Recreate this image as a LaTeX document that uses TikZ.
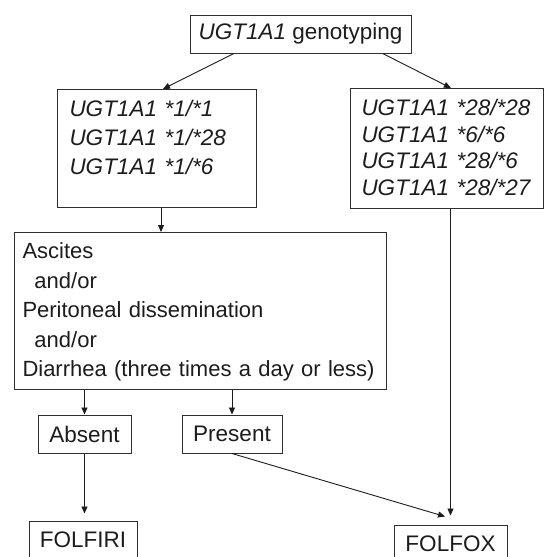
\documentclass[tikz,border=0pt]{standalone}
\usepackage{fontspec}
\setmainfont{Liberation Sans}
\usepackage{tikz}
\usetikzlibrary{positioning,arrows.meta,calc}
\definecolor{ink}{HTML}{1C1C1C}
\definecolor{frame}{HTML}{2E2E2E}
\tikzset{
  box/.style={rectangle, draw=frame, line width=1pt, inner sep=0pt, text=ink,
              font=\fontsize{22.5}{29}\selectfont},
  listbox/.style={box, anchor=north west, align=left},
  flow/.style={-{Triangle[length=7pt,width=6pt]}, line width=0.9pt, draw=ink},
  endflow/.style={flow, shorten >=7pt}
}

\begin{document}
\begin{tikzpicture}[x=1pt,y=-1pt]
  \useasboundingbox (0,0) rectangle (544,557);

  % genotype split
  \node[box, minimum width=221pt, minimum height=38pt] (geno) at (300.5,34)
    {\textit{UGT1A1} genotyping};
  \node[listbox, text width=175pt, inner xsep=12pt, text height=27pt, text depth=91pt]
    (wild) at (57,89)
    {\textit{UGT1A1 *1/*1}\\ \textit{UGT1A1 *1/*28}\\ \textit{UGT1A1 *1/*6}};
  \node[listbox, text width=171pt, inner xsep=11pt, text height=27pt, text depth=93pt,
        font=\fontsize{22.5}{26.7}\selectfont]
    (hi) at (350,88)
    {\textit{UGT1A1 *28/*28}\\ \textit{UGT1A1 *6/*6}\\ \textit{UGT1A1 *28/*6}\\ \textit{UGT1A1 *28/*27}};

  % clinical condition
  \node[listbox, text width=362pt, inner xsep=5pt, text height=26pt, text depth=131pt,
        font=\fontsize{22}{29.5}\selectfont]
    (cond) at (14,232)
    {\hspace*{3pt}Ascites\\ \hspace*{15pt}and/or\\ \hspace*{3pt}Peritoneal dissemination\\ \hspace*{15pt}and/or\\
     \hspace*{3pt}Diarrhea (three times a day or less)};

  \node[box, minimum width=93pt, minimum height=38pt] (absent) at (84.5,434) {Absent};
  \node[box, minimum width=100pt, minimum height=38pt] (present) at (232,434) {Present};

  % regimens
  \node[box, minimum width=108pt, minimum height=38pt] (folfiri) at (83,540) {FOLFIRI};
  \node[box, minimum width=113pt, minimum height=38pt] (folfox) at (450.5,544) {FOLFOX};

  \draw[flow] ($(geno.south west)!.2!(geno.south east)$) -- ($(wild.north west)!.53!(wild.north east)$);
  \draw[flow] ($(geno.south west)!.87!(geno.south east)$) -- ($(hi.north west)!.52!(hi.north east)$);
  \coordinate (w1) at ($(wild.south west)!.52!(wild.south east)$);
  \draw[flow] (w1) -- (w1 |- cond.north);
  \draw[flow] (absent.north |- cond.south) -- (absent.north);
  \draw[flow] (present.north |- cond.south) -- (present.north);
  \draw[endflow] (absent.south) -- (absent.south |- folfiri.north);
  \draw[flow] (present.south) -- ($(folfox.north)+(-5.5,-8)$);
  \draw[flow, shorten >=9pt] (hi.south -| folfox.north) -- (folfox.north);
\end{tikzpicture}
\end{document}
